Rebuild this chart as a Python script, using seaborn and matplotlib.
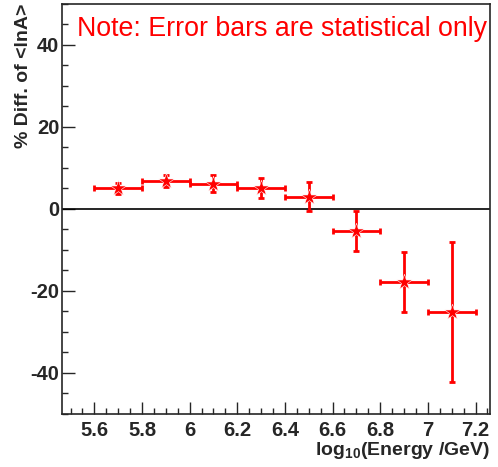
import matplotlib
matplotlib.use("Agg")
import matplotlib.pyplot as plt
from matplotlib.ticker import MultipleLocator, FuncFormatter
import numpy as np
import pandas as pd
import seaborn as sns

# log10(E/GeV) bin centres, half-widths, % difference and statistical errors
log_energy = [5.7, 5.9, 6.1, 6.3, 6.5, 6.7, 6.9, 7.1]
bin_half_width = [0.1, 0.1, 0.1, 0.1, 0.1, 0.1, 0.1, 0.1]
pct_diff = [5.0, 6.9, 6.2, 5.1, 3.0, -5.4, -17.8, -25.1]
stat_err = [1.3, 1.5, 2.0, 2.5, 3.5, 4.8, 7.4, 17.0]

NOTE = "Note: Error bars are statistical only"

sns.set_style("ticks")
plt.rcParams["font.family"] = ["Liberation Sans", "DejaVu Sans"]
plt.rcParams["axes.unicode_minus"] = False
plt.rcParams["mathtext.fontset"] = "custom"
plt.rcParams["mathtext.bf"] = "Liberation Sans:bold"

df = pd.DataFrame({"x": log_energy, "xerr": bin_half_width, "y": pct_diff, "yerr": stat_err})

fig = plt.figure(figsize=(4.98, 4.67), dpi=100)
ax = fig.add_axes([0.1245, 0.1135, 0.8595, 0.878])

ax.axhline(0, color="black", lw=1.2, zorder=1)
ax.errorbar(df["x"], df["y"], xerr=df["xerr"], yerr=df["yerr"], fmt="none",
            ecolor="red", elinewidth=2, capsize=2.5, capthick=2, zorder=2)
sns.scatterplot(data=df, x="x", y="y", marker="*", color="red", s=140,
                edgecolor="white", linewidth=0.4, ax=ax, zorder=3)

ax.set_xlim(5.464, 7.261)
ax.set_ylim(-50, 50)
ax.xaxis.set_major_locator(MultipleLocator(0.2))
ax.xaxis.set_minor_locator(MultipleLocator(0.05))
ax.yaxis.set_major_locator(MultipleLocator(20))
ax.yaxis.set_minor_locator(MultipleLocator(5))
ax.xaxis.set_major_formatter(FuncFormatter(lambda v, p: f"{v:g}"))
ax.yaxis.set_major_formatter(FuncFormatter(lambda v, p: f"{v:g}"))
ax.tick_params(which="both", direction="in", top=False, right=False, width=1)
ax.tick_params(which="major", length=9, labelsize=14.5)
ax.tick_params(axis="y", which="major", pad=2)
ax.tick_params(axis="x", which="major", pad=5)
ax.tick_params(which="minor", length=4.5)
for lbl in ax.get_xticklabels() + ax.get_yticklabels():
    lbl.set_fontweight("bold")
for sp in ax.spines.values():
    sp.set_linewidth(1.2)

ax.set_xlabel("log$_{\\mathbf{10}}$(Energy /GeV)", fontsize=14, fontweight="bold", loc="right", labelpad=0)
ax.set_ylabel("% Diff. of <lnA>", fontsize=14, fontweight="bold", loc="top", labelpad=-1)
ax.text(0.993, 0.97, NOTE, transform=ax.transAxes, ha="right", va="top",
        color="red", fontsize=19.3)

fig.savefig("out.png", dpi=100)
